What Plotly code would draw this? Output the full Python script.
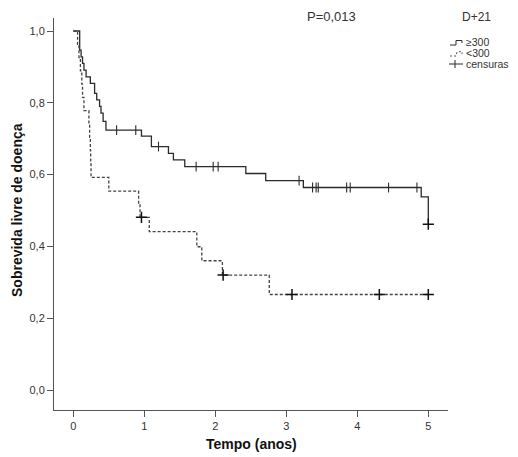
import plotly.graph_objects as go

# ---------------- data ----------------
# group D+21 >= 300 (step function: time of event, survival after event)
t_hi = [0.00, 0.09, 0.11, 0.13, 0.15, 0.18, 0.24, 0.30, 0.33, 0.37, 0.39, 0.42, 0.46,
        0.96, 1.10, 1.34, 1.41, 1.57, 2.43, 2.71, 3.24, 4.90, 5.00]
s_hi = [1.000, 0.947, 0.928, 0.910, 0.891, 0.872, 0.854, 0.826, 0.808, 0.790, 0.771, 0.748, 0.724,
        0.707, 0.678, 0.659, 0.641, 0.622, 0.603, 0.583, 0.564, 0.538, 0.462]
cens_hi = [0.61, 0.88, 1.20, 1.73, 1.97, 2.04, 3.18, 3.37, 3.42, 3.45, 3.85, 3.90, 4.44, 4.84, 5.00]

# group D+21 < 300
t_lo = [0.00, 0.06, 0.08, 0.10, 0.12, 0.13, 0.15, 0.22, 0.23, 0.24, 0.245, 0.25,
        0.50, 0.92, 0.94, 1.07, 1.74, 1.81, 2.10, 2.76]
s_lo = [1.000, 0.963, 0.926, 0.889, 0.852, 0.815, 0.778, 0.741, 0.704, 0.667, 0.630, 0.592,
        0.554, 0.518, 0.481, 0.441, 0.399, 0.360, 0.320, 0.266]
cens_lo = [0.96, 2.11, 3.08, 4.31, 5.00]

x_ticks = [0, 1, 2, 3, 4, 5]
y_ticks = [0.0, 0.2, 0.4, 0.6, 0.8, 1.0]
y_ticklabels = ["0,0", "0,2", "0,4", "0,6", "0,8", "1,0"]

p_text = "P=0,013"
legend_title = "D+21"
legend_labels = ["≥300", "<300", "censuras"]

# ---------------- helpers ----------------
W, H = 518, 457          # browser window
OFF = 8                  # default page body margin
L, R, T, B = 54, 448, 18, 410  # plot area in page pixels


def px(x):
    return (x - L) / (R - L)


def py(y):
    return (B - y) / (B - T)


def surv_at(times, surv, t):
    s = surv[0]
    for ti, si in zip(times, surv):
        if ti <= t + 1e-9:
            s = si
    return s


LINE = "#2b2b2b"
fig = go.Figure()

# >=300 solid
fig.add_trace(go.Scatter(x=t_hi, y=s_hi, mode="lines", line=dict(shape="hv", color=LINE, width=1.3),
                         showlegend=False, hoverinfo="skip"))
# <300 dashed, extended to end of follow-up
fig.add_trace(go.Scatter(x=t_lo + [5.0], y=s_lo + [s_lo[-1]], mode="lines",
                         line=dict(shape="hv", color="#444444", width=1.3, dash="3px,2px"),
                         showlegend=False, hoverinfo="skip"))

# censor marks
fig.add_trace(go.Scatter(x=cens_hi[:-1], y=[surv_at(t_hi, s_hi, t) for t in cens_hi[:-1]], mode="markers",
                         marker=dict(symbol="line-ns", size=7, line=dict(color=LINE, width=1.1)),
                         showlegend=False, hoverinfo="skip"))
fig.add_trace(go.Scatter(x=cens_lo + [cens_hi[-1]],
                         y=[surv_at(t_lo, s_lo, t) for t in cens_lo] + [surv_at(t_hi, s_hi, cens_hi[-1])],
                         mode="markers",
                         marker=dict(symbol="cross-thin", size=8, line=dict(color="#111111", width=1.5)),
                         showlegend=False, hoverinfo="skip"))

FONT = "Liberation Sans, Arial, sans-serif"

FW, FH = W - 2 * OFF, H - OFF
fig.update_layout(
    width=FW, height=FH,
    margin=dict(l=L - OFF, r=FW + OFF - R, t=T - OFF, b=FH + OFF - B),
    paper_bgcolor="white", plot_bgcolor="white",
    font=dict(family=FONT, color="#333333", size=11),
    xaxis=dict(range=[(L - 73.3) / 71.0, (R - 73.3) / 71.0], tickvals=x_ticks,
               ticks="outside", ticklen=6, tickcolor="#555555", showline=True, linecolor="#555555",
               linewidth=1, showgrid=False, zeroline=False, tickfont=dict(size=11, color="#333333")),
    yaxis=dict(range=[-(B - 390) / 359.0, 1 + (31 - T) / 359.0], tickvals=y_ticks, ticktext=y_ticklabels,
               ticks="outside", ticklen=6, tickcolor="#555555", showline=True, linecolor="#555555",
               linewidth=1, showgrid=False, zeroline=False, tickfont=dict(size=11, color="#333333")),
)

ann = []
# axis titles
ann.append(dict(text="<b>Tempo (anos)</b>", xref="paper", yref="paper", x=px(252), y=py(444),
                xanchor="center", yanchor="middle", showarrow=False,
                font=dict(size=14, color="#111111", family=FONT)))
ann.append(dict(text="<b>Sobrevida livre de doença</b>", xref="paper", yref="paper", x=px(17), y=py(210),
                xanchor="center", yanchor="middle", showarrow=False, textangle=-90,
                font=dict(size=14, color="#111111", family=FONT)))
# p value
ann.append(dict(text=p_text, xref="paper", yref="paper", x=px(331), y=py(17),
                xanchor="center", yanchor="middle", showarrow=False,
                font=dict(size=13, color="#333333", family=FONT)))
# legend
ann.append(dict(text=legend_title, xref="paper", yref="paper", x=px(476), y=py(17),
                xanchor="center", yanchor="middle", showarrow=False,
                font=dict(size=12, color="#333333", family=FONT)))
for lab, yy, xx in zip(legend_labels, [42, 53, 64], [464, 464, 464]):
    ann.append(dict(text=lab, xref="paper", yref="paper", x=px(xx), y=py(yy),
                    xanchor="left", yanchor="middle", showarrow=False,
                    font=dict(size=10.5, color="#333333", family=FONT)))
fig.update_layout(annotations=ann)


def path(points):
    return "M " + " L ".join(f"{px(a):.5f},{py(b):.5f}" for a, b in points)


shapes = [
    dict(type="path", xref="paper", yref="paper",
         path=path([(450, 45), (456, 45), (456, 40.5), (462, 40.5), (462, 43)]),
         line=dict(color=LINE, width=1)),
    dict(type="path", xref="paper", yref="paper",
         path=path([(450, 56), (456, 56), (457, 52), (462, 51.5), (462, 54)]),
         line=dict(color="#555555", width=1, dash="2px,2px")),
    dict(type="line", xref="paper", yref="paper", x0=px(449), x1=px(463), y0=py(64), y1=py(64),
         line=dict(color=LINE, width=1)),
    dict(type="line", xref="paper", yref="paper", x0=px(455), x1=px(455), y0=py(60), y1=py(68),
         line=dict(color=LINE, width=1)),
]
fig.update_layout(shapes=shapes)

fig.write_html("out.html")
